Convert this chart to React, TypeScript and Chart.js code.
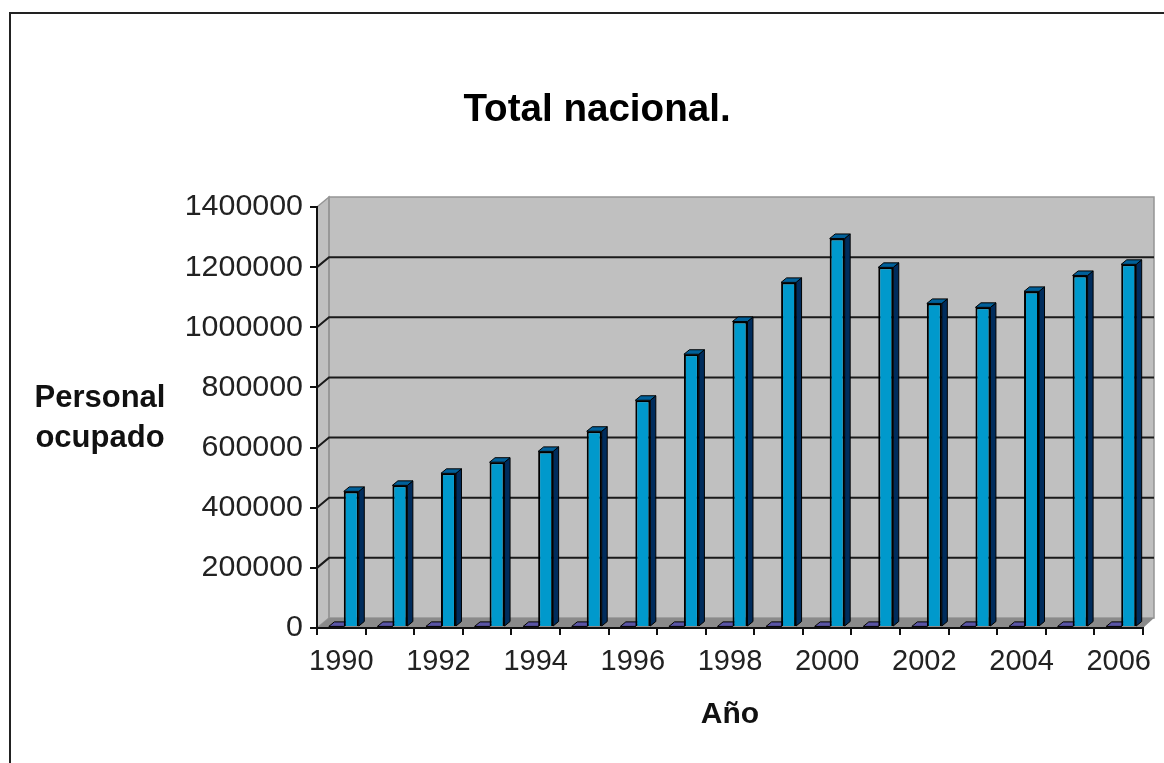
import React, { useEffect, useRef } from "react";
import { Chart, registerables } from "chart.js";

Chart.register(...registerables);

const years = ["1990","1991","1992","1993","1994","1995","1996","1997","1998","1999","2000","2001","2002","2003","2004","2005","2006"];
const yearSeries = [1990,1991,1992,1993,1994,1995,1996,1997,1998,1999,2000,2001,2002,2003,2004,2005,2006];
const personalOcupado = [451000,471000,511000,548000,584000,651000,754000,907000,1016000,1146000,1292000,1196000,1076000,1063000,1116000,1169000,1206000];
const chartTitle = "Total nacional.";
const xTitle = "Año";
const yTitleLines = ["Personal", "ocupado"];
const FONT = "'Liberation Sans', Arial, sans-serif";

const wallDX = 12, wallDY = 10;
const barDX = 5.5, barDY = 4.5;
const shiftX = 2.5, shiftY = -1;

const threeD = {
  id: "threeD",
  beforeDraw(chart: any) {
    const { ctx, chartArea: a, scales } = chart;
    ctx.save();
    ctx.fillStyle = "#fff";
    ctx.fillRect(0, 0, chart.width, chart.height);
    // outer frame
    ctx.strokeStyle = "#222";
    ctx.lineWidth = 2;
    ctx.beginPath();
    ctx.moveTo(10, 770);
    ctx.lineTo(10, 13);
    ctx.lineTo(1170, 13);
    ctx.stroke();
    // back wall + side wall
    ctx.fillStyle = "#c0c0c0";
    ctx.fillRect(a.left + wallDX, a.top - wallDY, a.width - 1, a.height);
    ctx.beginPath();
    ctx.moveTo(a.left, a.top);
    ctx.lineTo(a.left + wallDX, a.top - wallDY);
    ctx.lineTo(a.left + wallDX, a.bottom - wallDY);
    ctx.lineTo(a.left, a.bottom);
    ctx.closePath();
    ctx.fill();
    ctx.strokeStyle = "#959595";
    ctx.lineWidth = 1.5;
    ctx.stroke();
    ctx.strokeRect(a.left + wallDX, a.top - wallDY, a.width - 1, a.height);
    // floor
    ctx.beginPath();
    ctx.moveTo(a.left, a.bottom);
    ctx.lineTo(a.left + wallDX, a.bottom - wallDY);
    ctx.lineTo(a.right + wallDX - 1, a.bottom - wallDY);
    ctx.lineTo(a.right, a.bottom);
    ctx.closePath();
    ctx.fillStyle = "#8a8a8a";
    ctx.fill();
    // gridlines on the walls
    ctx.strokeStyle = "#1a1a1a";
    ctx.lineWidth = 2;
    scales.y.ticks.forEach((t: any) => {
      if (t.value === 0 || t.value === 1400000) return;
      const y = scales.y.getPixelForValue(t.value);
      ctx.beginPath();
      ctx.moveTo(a.left, y);
      ctx.lineTo(a.left + wallDX, y - wallDY);
      ctx.lineTo(a.right + wallDX - 1, y - wallDY);
      ctx.stroke();
    });
    // y axis title, horizontal
    ctx.fillStyle = "#111";
    ctx.font = `bold 31px ${FONT}`;
    ctx.textAlign = "center";
    ctx.textBaseline = "middle";
    yTitleLines.forEach((l, i) => ctx.fillText(l, 100, 398 + i * 40));
    ctx.restore();
  },
  beforeDatasetsDraw(chart: any) {
    const { ctx } = chart;
    ctx.save();
    ctx.translate(shiftX, shiftY);
    chart.data.datasets.forEach((ds: any, di: number) => {
      chart.getDatasetMeta(di).data.forEach((b: any) => {
        const l = b.x - b.width / 2, r = b.x + b.width / 2;
        const top = b.y, bot = b.base;
        ctx.lineWidth = 1;
        ctx.strokeStyle = "#000";
        ctx.lineJoin = "round";
        ctx.fillStyle = ds.sideColor;
        ctx.beginPath();
        ctx.moveTo(r, top);
        ctx.lineTo(r + barDX, top - barDY);
        ctx.lineTo(r + barDX, bot - barDY);
        ctx.lineTo(r, bot);
        ctx.closePath();
        ctx.fill();
        ctx.stroke();
        ctx.fillStyle = ds.topColor;
        ctx.beginPath();
        ctx.moveTo(l, top);
        ctx.lineTo(l + barDX, top - barDY);
        ctx.lineTo(r + barDX, top - barDY);
        ctx.lineTo(r, top);
        ctx.closePath();
        ctx.fill();
        ctx.stroke();
      });
    });
  },
  afterDatasetsDraw(chart: any) {
    chart.ctx.restore();
  },
};

export default function App() {
  const ref = useRef<HTMLCanvasElement>(null);
  useEffect(() => {
    const chart = new Chart(ref.current as HTMLCanvasElement, {
      type: "bar",
      data: {
        labels: years,
        datasets: [
          { data: yearSeries, backgroundColor: "#000", borderColor: "#000", borderWidth: 2, topColor: "#5a55a5", sideColor: "#000", clip: false, yAxisID: "y" } as any,
          { data: personalOcupado, backgroundColor: "#0099cc", borderColor: "#000", borderWidth: 2, topColor: "#00609a", sideColor: "#002c5c", clip: false, yAxisID: "y" } as any,
        ],
      },
      plugins: [threeD],
      options: {
        animation: false,
        responsive: false,
        layout: { padding: { left: 30, right: 0, top: 0, bottom: 0 } },
        datasets: { bar: { categoryPercentage: 0.617, barPercentage: 1 } },
        plugins: {
          legend: { display: false },
          tooltip: { enabled: false },
          title: {
            display: true,
            text: chartTitle,
            color: "#000",
            font: { family: FONT, size: 38.6, weight: "bold", lineHeight: 1 },
            padding: { top: 91, bottom: 77.4 },
          },
        },
        scales: {
          x: {
            afterFit: (s: any) => { s.height = 135; },
            grid: { drawOnChartArea: false, color: "#111", lineWidth: 2, tickLength: 7 },
            border: { color: "#111", width: 2 },
            ticks: {
              autoSkip: false,
              maxRotation: 0,
              minRotation: 0,
              padding: 10,
              color: "#222",
              font: { family: FONT, size: 29 },
              callback: (_v: any, i: number) => (i % 2 === 0 ? years[i] : ""),
            },
            title: {
              display: true,
              text: xTitle,
              color: "#111",
              font: { family: FONT, size: 30, weight: "bold" },
              padding: { top: 0, bottom: 30 },
            },
          },
          y: {
            min: 0,
            max: 1400000,
            afterFit: (s: any) => { s.width = 287; },
            grid: { drawOnChartArea: false, color: "#111", lineWidth: 2, tickLength: 7 },
            border: { color: "#111", width: 2 },
            ticks: {
              stepSize: 200000,
              padding: 7,
              color: "#222",
              font: { family: FONT, size: 30.4 },
              callback: (v: any) => String(v),
            },
          },
          gutter: {
            position: "right",
            display: true,
            afterFit: (s: any) => { s.width = 21; },
            grid: { display: false },
            border: { display: false },
            ticks: { display: false },
          },
        },
      } as any,
    });
    return () => chart.destroy();
  }, []);
  return (
    <div style={{ position: "absolute", left: 0, top: 0, width: 1164, height: 763, overflow: "hidden" }}>
      <canvas ref={ref} width={1164} height={763} style={{ display: "block", filter: "blur(0.4px)" }} />
    </div>
  );
}
